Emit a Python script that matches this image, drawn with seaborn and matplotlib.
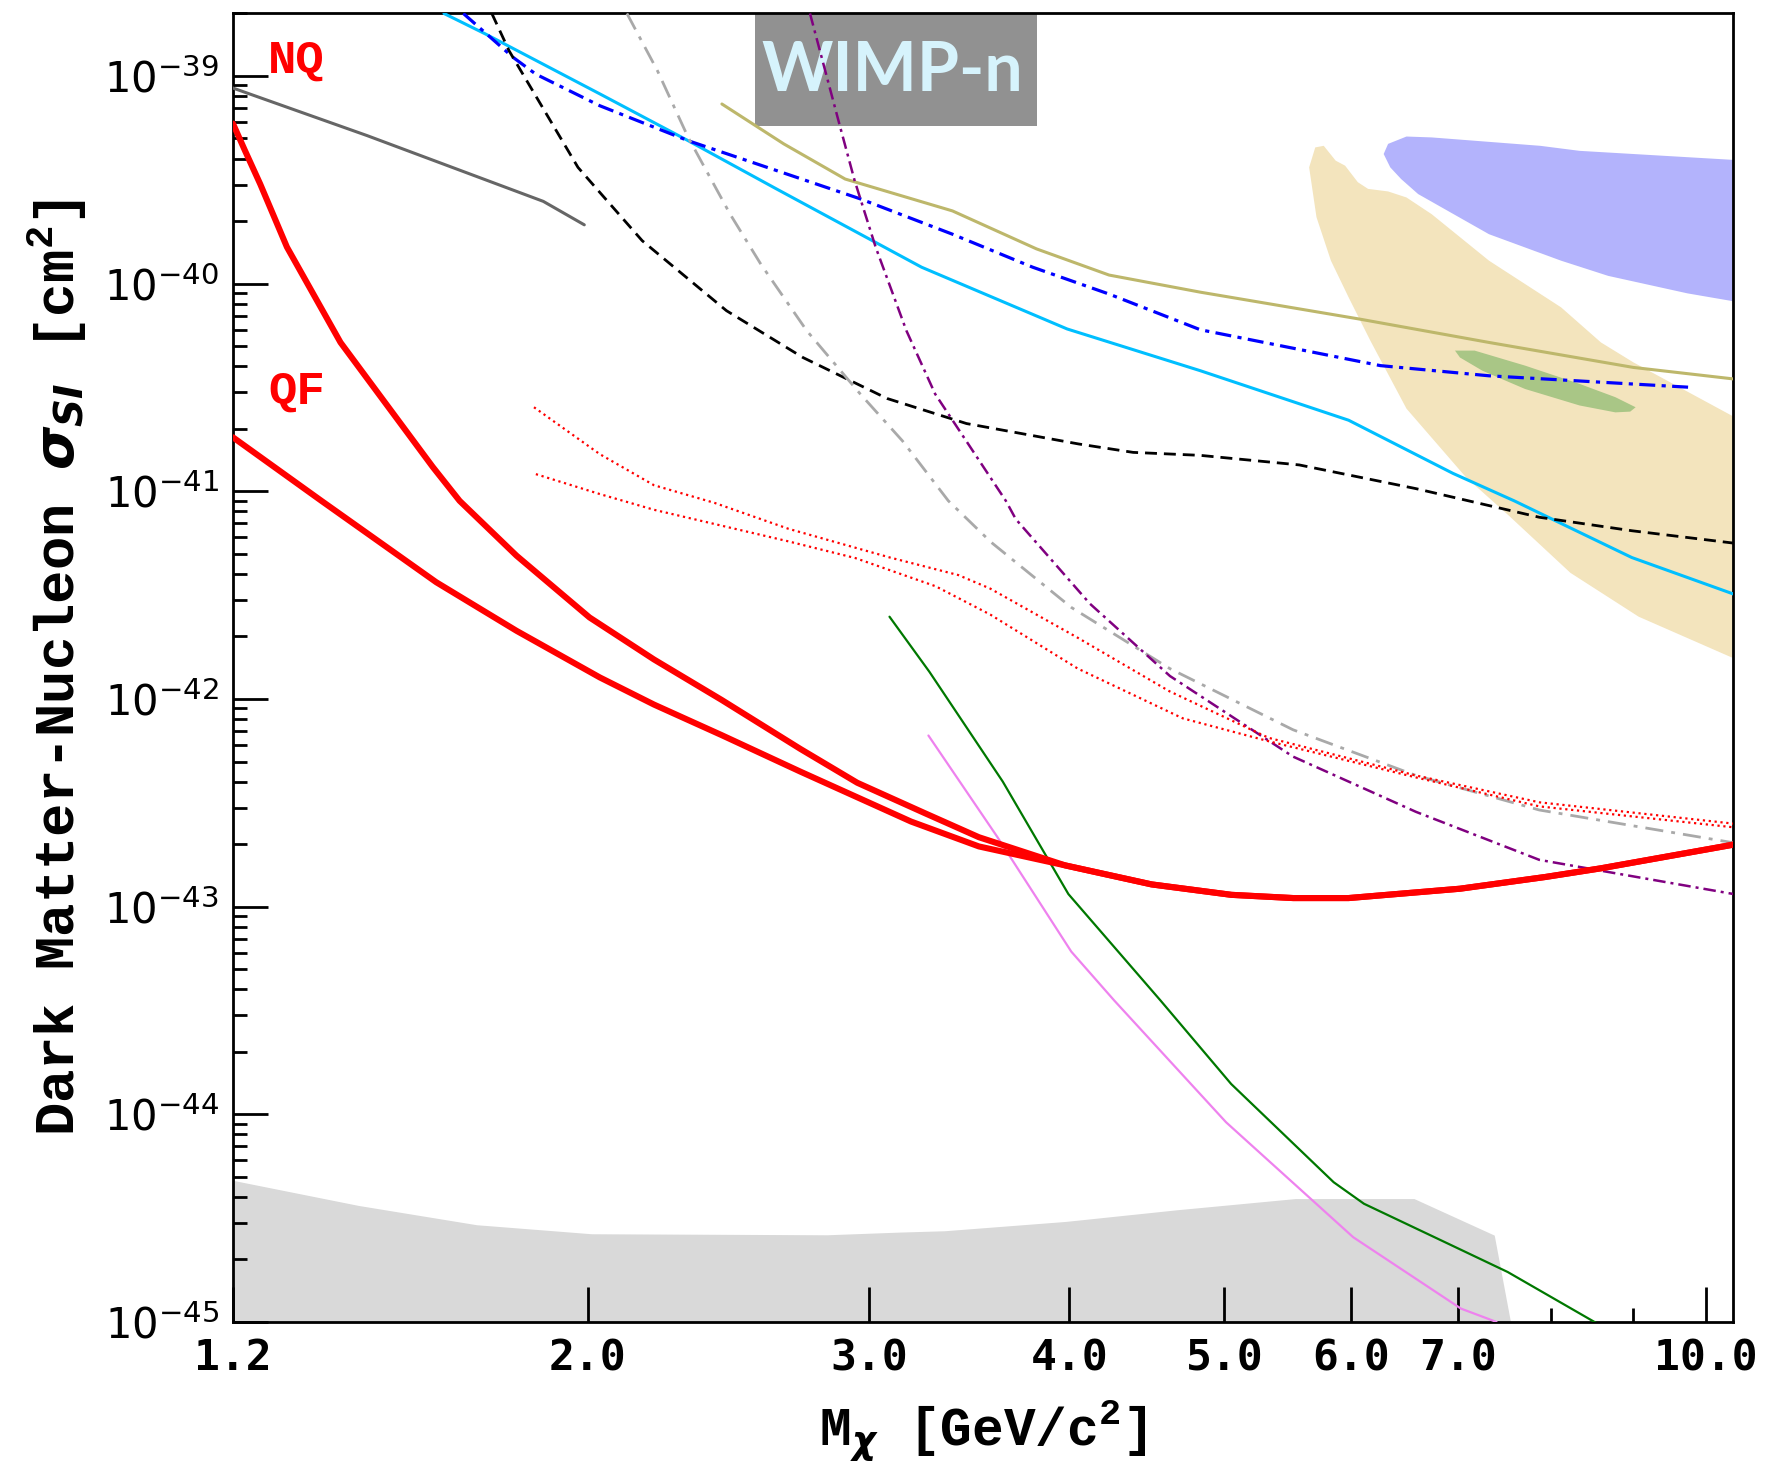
import numpy as np
import pandas as pd
import matplotlib
matplotlib.use("Agg")
import matplotlib.pyplot as plt
import seaborn as sns
from matplotlib.ticker import FixedLocator, FixedFormatter, NullFormatter, FuncFormatter, LogLocator
from matplotlib.patches import Rectangle

# ---------------- data ----------------
nq_x = [1.2, 1.221, 1.248, 1.297, 1.401, 1.600, 1.663, 1.805, 2.005, 2.2, 2.425, 2.716, 2.948, 3.249,
        3.512, 3.977, 4.503, 5.052, 5.522, 5.98, 7.02, 7.94, 8.60, 10.41]
nq_y = [5.9e-40, 4.37e-40, 3.02e-40, 1.50e-40, 5.21e-41, 1.31e-41, 9.0e-42, 4.9e-42, 2.47e-42, 1.55e-42,
        9.9e-43, 5.75e-43, 3.95e-43, 2.82e-43, 2.16e-43, 1.58e-43, 1.28e-43, 1.14e-43, 1.10e-43, 1.10e-43,
        1.22e-43, 1.39e-43, 1.53e-43, 1.99e-43]

qf_x = [1.2, 1.363, 1.608, 1.805, 2.035, 2.2, 2.425, 2.716, 3.185, 3.512, 3.977, 4.503, 5.052, 5.522,
        5.98, 7.02, 7.94, 8.60, 10.41]
qf_y = [1.82e-41, 9.0e-42, 3.65e-42, 2.13e-42, 1.27e-42, 9.4e-43, 6.7e-43, 4.47e-43, 2.57e-43, 1.95e-43,
        1.58e-43, 1.28e-43, 1.14e-43, 1.10e-43, 1.10e-43, 1.22e-43, 1.39e-43, 1.53e-43, 1.99e-43]

grayline_x = [1.2, 1.456, 1.876, 1.99]
grayline_y = [8.75e-40, 5.16e-40, 2.49e-40, 1.92e-40]

cyan_x = [1.626, 1.727, 2.035, 2.311, 2.624, 3.234, 3.988, 4.83, 5.98, 6.95, 7.59, 8.99, 10.41]
cyan_y = [2.0e-39, 1.59e-39, 8.2e-40, 4.88e-40, 2.86e-40, 1.20e-40, 6.05e-41, 3.81e-41, 2.20e-41,
          1.22e-41, 9.0e-42, 4.80e-42, 3.20e-42]

blue_x = [1.672, 1.796, 1.856, 2.035, 2.311, 2.961, 3.381, 3.795, 4.236, 4.83, 6.26, 7.32, 9.77]
blue_y = [2.0e-39, 1.23e-39, 1.02e-39, 7.19e-40, 4.88e-40, 2.56e-40, 1.73e-40, 1.20e-40, 8.91e-41,
          6.0e-41, 4.03e-41, 3.60e-41, 3.17e-41]

khaki_x = [2.426, 2.652, 2.897, 3.381, 3.816, 4.236, 4.83, 6.07, 7.32, 9.01, 10.43]
khaki_y = [7.33e-40, 4.71e-40, 3.19e-40, 2.24e-40, 1.47e-40, 1.10e-40, 9.1e-41, 6.76e-41, 5.21e-41,
           3.95e-41, 3.47e-41]

black_x = [1.742, 1.786, 1.972, 2.035, 2.163, 2.442, 2.726, 3.077, 3.45, 4.055, 4.385, 4.83, 5.57,
           6.59, 7.87, 8.99, 10.41]
black_y = [2.0e-39, 1.32e-39, 3.63e-40, 2.75e-40, 1.61e-40, 7.41e-41, 4.41e-41, 2.8e-41, 2.12e-41,
           1.69e-41, 1.54e-41, 1.49e-41, 1.34e-41, 1.03e-41, 7.50e-42, 6.46e-42, 5.63e-42]

gdd_x = [2.116, 2.211, 2.311, 2.455, 2.566, 2.741, 2.961, 3.146, 3.361, 3.574, 4.012, 4.624, 5.52,
         6.59, 7.87, 10.41]
gdd_y = [2.0e-39, 1.06e-39, 5.06e-40, 2.16e-40, 1.24e-40, 5.94e-41, 2.94e-41, 1.75e-41, 9.0e-42,
         5.69e-42, 2.76e-42, 1.40e-42, 7.11e-43, 4.28e-43, 2.92e-43, 2.03e-43]

purple_x = [2.754, 2.873, 2.937, 3.027, 3.164, 3.298, 3.651, 3.704, 4.12, 4.624, 5.52, 6.59, 7.87, 10.41]
purple_y = [2.0e-39, 5.87e-40, 3.13e-40, 1.50e-40, 5.94e-41, 2.94e-41, 9.0e-42, 7.34e-42, 2.88e-42,
            1.29e-42, 5.28e-43, 2.86e-43, 1.68e-43, 1.15e-43]

green_x = [3.088, 3.271, 3.635, 3.995, 4.562, 5.05, 5.853, 6.114, 6.944, 7.52, 8.54]
green_y = [2.49e-42, 1.35e-42, 4.0e-43, 1.15e-43, 3.53e-44, 1.40e-44, 4.71e-45, 3.71e-45, 2.33e-45,
           1.74e-45, 9.9e-46]

violet_x = [3.266, 3.606, 4.012, 4.268, 5.013, 6.02, 7.03, 7.40]
violet_y = [6.67e-43, 2.17e-43, 6.07e-44, 3.53e-44, 9.16e-45, 2.56e-45, 1.16e-45, 1.0e-45]

dot1_x = [1.851, 2.035, 2.2, 2.4, 2.67, 3.09, 3.41, 3.57, 4.05, 4.62, 5.33, 6.59, 7.87, 10.41]
dot1_y = [2.54e-41, 1.51e-41, 1.07e-41, 8.8e-42, 6.6e-42, 4.8e-42, 3.95e-42, 3.4e-42, 1.97e-42,
          1.09e-42, 6.5e-43, 4.28e-43, 3.18e-43, 2.51e-43]
dot2_x = [1.856, 2.035, 2.2, 2.67, 2.94, 3.30, 3.57, 4.05, 4.71, 5.33, 6.59, 7.87, 10.41]
dot2_y = [1.21e-41, 9.7e-42, 8.15e-42, 5.74e-42, 4.77e-42, 3.49e-42, 2.55e-42, 1.40e-42, 8.07e-43,
          6.26e-43, 4.19e-43, 3.04e-43, 2.41e-43]

floor_x = [1.2, 1.438, 1.704, 2.011, 2.822, 3.135, 3.342, 3.98, 4.67, 5.54, 6.57, 7.375, 7.55]
floor_y = [4.81e-45, 3.64e-45, 2.94e-45, 2.66e-45, 2.63e-45, 2.71e-45, 2.75e-45, 3.05e-45, 3.47e-45,
           3.93e-45, 3.93e-45, 2.62e-45, 1.0e-45]

bluereg_x = [6.29, 6.33, 6.50, 6.74, 7.88, 8.34, 10.43, 10.43, 9.74, 8.69, 8.12, 7.32, 6.61, 6.45, 6.35]
bluereg_y = [4.21e-40, 4.71e-40, 5.11e-40, 5.06e-40, 4.61e-40, 4.36e-40, 3.94e-40, 8.2e-41, 8.98e-41,
             1.09e-40, 1.29e-40, 1.73e-40, 2.70e-40, 3.19e-40, 3.63e-40]

tan_x = [5.77, 5.87, 5.95, 6.06, 6.15, 6.33, 6.50, 6.74, 7.32, 8.12, 8.60, 9.01, 10.43, 10.43,
         9.08, 8.23, 7.53, 7.08, 6.50, 6.17, 5.98, 5.83, 5.71, 5.65, 5.70]
tan_y = [4.61e-40, 3.91e-40, 3.70e-40, 3.08e-40, 2.86e-40, 2.78e-40, 2.60e-40, 2.16e-40, 1.29e-40,
         7.69e-41, 5.21e-41, 4.18e-41, 2.27e-41, 1.56e-42, 2.49e-42, 4.05e-42, 7.65e-42, 1.17e-41,
         2.5e-41, 5.32e-41, 8.6e-41, 1.29e-40, 2.09e-40, 3.63e-40, 4.53e-40]

ell_x = [6.97, 7.17, 7.71, 8.34, 8.78, 9.04, 8.97, 8.78, 8.34, 7.71, 7.25, 7.02]
ell_y = [4.76e-41, 4.76e-41, 4.03e-41, 3.29e-41, 2.84e-41, 2.54e-41, 2.42e-41, 2.40e-41, 2.59e-41,
         3.11e-41, 3.81e-41, 4.41e-41]

x_ticks = [1.2, 2, 3, 4, 5, 6, 7, 10]
x_ticklabels = ["1.2", "2.0", "3.0", "4.0", "5.0", "6.0", "7.0", "10.0"]
x_minor = [8, 9]
y_exponents = [-45, -44, -43, -42, -41, -40, -39]

# ---------------- style ----------------
sns.set_theme(style="ticks")
plt.rcParams["font.family"] = ["Liberation Mono", "DejaVu Sans"]
plt.rcParams["mathtext.fontset"] = "custom"
plt.rcParams["mathtext.rm"] = "Liberation Mono:bold"
plt.rcParams["mathtext.bf"] = "Liberation Mono:bold"
plt.rcParams["mathtext.it"] = "DejaVu Sans:italic:bold"
plt.rcParams["mathtext.sf"] = "DejaVu Sans"

fig = plt.figure(figsize=(17.66, 14.64), dpi=100)
ax = fig.add_axes([0.1319, 0.0970, 0.8494, 0.8938])
ax.set_xscale("log")
ax.set_yscale("log")
ax.set_axisbelow(False)


def line(x, y, color, lw, ls="-", z=3):
    sns.lineplot(x=x, y=y, ax=ax, color=color, linewidth=lw, linestyle=ls,
                 sort=False, estimator=None, zorder=z)


# filled regions
ax.fill_between(floor_x, floor_y, 1e-45, color="#D9D9D9", lw=0, zorder=1)
ax.fill(tan_x, tan_y, color="#F3E4BD", lw=0, zorder=1)
ax.fill(bluereg_x, bluereg_y, color="#B3B3FC", lw=0, zorder=1)
ax.fill(ell_x, ell_y, color="#A9C686", lw=0, zorder=1.1)

# label box
ax.add_patch(Rectangle((0.348, 0.914), 0.188, 0.086, transform=ax.transAxes,
                       color="#919191", lw=0, zorder=1.2))
ax.text(0.4396, 0.956, "WIMP-n", transform=ax.transAxes, ha="center", va="center",
        fontsize=49, color="#D6F3FC", family="Lato", weight="bold", zorder=1.3)

# lines
line(grayline_x, grayline_y, "#666666", 2.2)
line(khaki_x, khaki_y, "#BDB76B", 2.2)
line(cyan_x, cyan_y, "#00BFFF", 2.2)
line(blue_x, blue_y, "#0000FF", 2.3, (0, (5, 2, 1.3, 2)))
line(black_x, black_y, "black", 2.0, (0, (4.3, 2.5)))
line(gdd_x, gdd_y, "#A9A9A9", 2.0, (0, (6.5, 2.9, 1.4, 2.9)))
line(purple_x, purple_y, "#800080", 1.8, (0, (5, 2, 1.2, 2)))
line(green_x, green_y, "#007800", 1.6)
line(violet_x, violet_y, "#EE82EE", 1.6)
line(dot1_x, dot1_y, "red", 1.6, ":")
line(dot2_x, dot2_y, "red", 1.6, ":")
line(qf_x, qf_y, "red", 4.4, z=4)
line(nq_x, nq_y, "red", 4.4, z=4)

ax.text(0.0233, 0.9637, "NQ", transform=ax.transAxes, ha="left", va="center",
        fontsize=34, color="red", family="Liberation Mono", weight="bold")
ax.text(0.0233, 0.7107, "QF", transform=ax.transAxes, ha="left", va="center",
        fontsize=34, color="red", family="Liberation Mono", weight="bold")

# axes
ax.set_xlim(1.2, 10.4)
ax.set_ylim(1e-45, 2e-39)
ax.xaxis.set_major_locator(FixedLocator(x_ticks))
ax.xaxis.set_major_formatter(FixedFormatter(x_ticklabels))
ax.xaxis.set_minor_locator(FixedLocator(x_minor))
ax.xaxis.set_minor_formatter(NullFormatter())
ax.yaxis.set_major_locator(FixedLocator([10.0 ** e for e in y_exponents]))
ax.yaxis.set_major_formatter(FuncFormatter(lambda v, p: r"$\mathsf{10^{%d}}$" % round(np.log10(v))))
ax.yaxis.set_minor_locator(LogLocator(base=10, subs=np.arange(2, 10), numticks=50))
ax.yaxis.set_minor_formatter(NullFormatter())

ax.tick_params(which="both", direction="in", top=False, right=False, width=2, color="black")
ax.tick_params(which="major", length=25)
ax.tick_params(which="minor", length=10)
ax.tick_params(axis="x", which="major", pad=11)
ax.tick_params(axis="y", which="major", pad=10)
for lab in ax.get_xticklabels():
    lab.set_family("DejaVu Sans Mono")
    lab.set_weight("bold")
    lab.set_fontsize(31)
    lab.set_color("black")
for lab in ax.get_yticklabels():
    lab.set_fontsize(30)
    lab.set_color("black")

for s in ax.spines.values():
    s.set_linewidth(2.0)
    s.set_color("black")
    s.set_visible(True)

ax.set_xlabel(r"M$_{\chi}$ [GeV/c$^{2}$]", fontsize=38, weight="bold", color="black")
ax.set_ylabel(r"Dark Matter-Nucleon $\sigma_{SI}$ [cm$^{2}$]", fontsize=40, weight="bold", color="black")
ax.xaxis.set_label_coords(0.5, -0.058)
ax.yaxis.set_label_coords(-0.096, 0.5)
ax.set_facecolor("white")
fig.patch.set_facecolor("white")

fig.savefig("out.png", dpi=100)
